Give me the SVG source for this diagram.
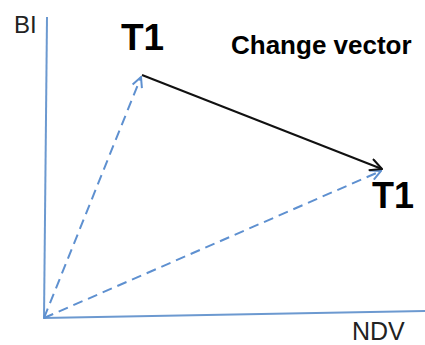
<svg xmlns="http://www.w3.org/2000/svg" width="425" height="345" viewBox="0 0 425 345">
<style>
.axis{stroke:#6C99D0;stroke-width:2;fill:none}
.dash{stroke:#5E90D0;stroke-width:2;fill:none;stroke-dasharray:10 6}
.vec{stroke:#111;stroke-width:2;fill:none}
.lbl{font-family:"Liberation Sans",Arial,sans-serif;fill:#222}
.big{font-family:"Liberation Sans",Arial,sans-serif;font-weight:bold;fill:#000}
</style>
<defs>
<marker id="ab" viewBox="0 0 12 12" refX="11" refY="6" markerWidth="12" markerHeight="12" markerUnits="userSpaceOnUse" orient="auto">
<path d="M1,1 L11,6 L1,11" fill="none" stroke="#5E90D0" stroke-width="2"/>
</marker>
<marker id="ak" viewBox="0 0 14 14" refX="13" refY="7" markerWidth="14" markerHeight="14" markerUnits="userSpaceOnUse" orient="auto">
<path d="M1,1 L13,7 L1,13" fill="none" stroke="#111" stroke-width="2"/>
</marker>
</defs>
<g id="axes">
<line class="axis" x1="47" y1="17" x2="44" y2="318"/>
<line class="axis" x1="43" y1="318" x2="425" y2="311"/>
</g>
<g id="connectors">
<line class="dash" x1="44" y1="318" x2="141" y2="77" marker-end="url(#ab)"/>
<line class="dash" x1="44" y1="318" x2="381" y2="171" marker-end="url(#ab)"/>
<line class="vec" x1="142" y1="75" x2="382" y2="169" marker-end="url(#ak)"/>
</g>
<g id="labels">
<text class="lbl" x="14" y="33" font-size="24">BI</text>
<text class="lbl" x="352" y="340" font-size="25">NDV</text>
<text class="big" x="121" y="50" font-size="37">T1</text>
<text class="big" x="372" y="208" font-size="36">T1</text>
<text class="big" x="231" y="54" font-size="26">Change vector</text>
</g>
</svg>
